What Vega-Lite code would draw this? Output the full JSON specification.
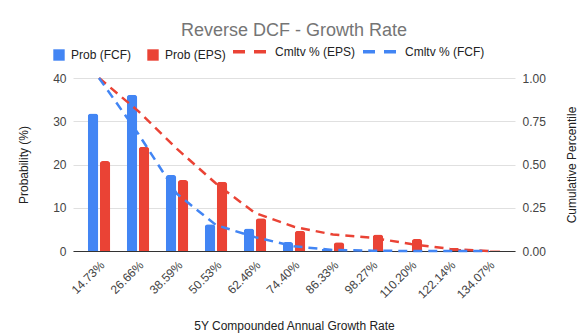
{
  "$schema": "https://vega.github.io/schema/vega-lite/v6.json",
  "width": 442,
  "height": 173,
  "autosize": {"type": "none"},
  "padding": {"left": 73, "top": 78, "right": 72, "bottom": 84},
  "background": "white",
  "config": {
    "view": {"stroke": null},
    "font": "Liberation Sans",
    "axis": {"labelFont": "Liberation Sans", "titleFont": "Liberation Sans", "labelFontSize": 12, "titleFontSize": 12, "titleFontWeight": "normal", "labelColor": "#444444", "titleColor": "#222222", "ticks": false},
    "legend": {"labelFont": "Liberation Sans", "labelFontSize": 12, "labelColor": "#222222"}
  },
  "title": {"text": "Reverse DCF - Growth Rate", "anchor": "middle", "fontSize": 18, "fontWeight": "normal", "color": "#757575", "font": "Liberation Sans", "offset": 4, "dy": 11},
  "layer": [
    {
      "data": {"values": [
        {"rate": "14.73%", "series": "Prob (FCF)", "value": 31.8},
        {"rate": "14.73%", "series": "Prob (EPS)", "value": 20.8},
        {"rate": "26.66%", "series": "Prob (FCF)", "value": 36.1},
        {"rate": "26.66%", "series": "Prob (EPS)", "value": 24.1},
        {"rate": "38.59%", "series": "Prob (FCF)", "value": 17.6},
        {"rate": "38.59%", "series": "Prob (EPS)", "value": 16.4},
        {"rate": "50.53%", "series": "Prob (FCF)", "value": 6.2},
        {"rate": "50.53%", "series": "Prob (EPS)", "value": 16.0},
        {"rate": "62.46%", "series": "Prob (FCF)", "value": 5.2},
        {"rate": "62.46%", "series": "Prob (EPS)", "value": 7.6},
        {"rate": "74.40%", "series": "Prob (FCF)", "value": 2.1},
        {"rate": "74.40%", "series": "Prob (EPS)", "value": 4.7},
        {"rate": "86.33%", "series": "Prob (FCF)", "value": 0.5},
        {"rate": "86.33%", "series": "Prob (EPS)", "value": 2.0},
        {"rate": "98.27%", "series": "Prob (FCF)", "value": 0.1},
        {"rate": "98.27%", "series": "Prob (EPS)", "value": 3.8},
        {"rate": "110.20%", "series": "Prob (FCF)", "value": 0},
        {"rate": "110.20%", "series": "Prob (EPS)", "value": 2.8},
        {"rate": "122.14%", "series": "Prob (FCF)", "value": 0},
        {"rate": "122.14%", "series": "Prob (EPS)", "value": 0.5},
        {"rate": "134.07%", "series": "Prob (FCF)", "value": 0},
        {"rate": "134.07%", "series": "Prob (EPS)", "value": 0.2}
      ]},
      "mark": {"type": "bar", "cornerRadiusTopLeft": 3, "cornerRadiusTopRight": 3},
      "encoding": {
        "x": {"field": "rate", "type": "nominal", "sort": null,
              "scale": {"paddingInner": 0, "paddingOuter": 0.167},
              "axis": {"title": "5Y Compounded Annual Growth Rate", "labelAngle": -45, "labelPadding": 8, "titlePadding": 20, "domainColor": "#333333", "grid": false}},
        "xOffset": {"field": "series", "type": "nominal", "sort": ["Prob (FCF)", "Prob (EPS)"], "scale": {"paddingInner": 0.125, "paddingOuter": 0.69}},
        "y": {"field": "value", "type": "quantitative", "scale": {"domain": [0, 40]},
              "axis": {"title": "Probability (%)", "values": [0, 10, 20, 30, 40], "domain": false, "gridColor": "#e0e0e0", "labelPadding": 7, "titlePadding": 22}},
        "color": {"field": "series", "type": "nominal",
                  "scale": {"domain": ["Prob (FCF)", "Prob (EPS)"], "range": ["#4285F4", "#EA4335"]},
                  "legend": {"title": null, "orient": "none", "legendX": -20, "legendY": -29, "direction": "horizontal", "columns": 2, "symbolType": "square", "symbolSize": 130, "symbolStrokeWidth": 0, "columnPadding": 16, "labelOffset": 6}}
      }
    },
    {
      "data": {"values": [
        {"rate": "14.73%", "series": "Cmltv % (EPS)", "cum": 1.0},
        {"rate": "26.66%", "series": "Cmltv % (EPS)", "cum": 0.81},
        {"rate": "38.59%", "series": "Cmltv % (EPS)", "cum": 0.59},
        {"rate": "50.53%", "series": "Cmltv % (EPS)", "cum": 0.39},
        {"rate": "62.46%", "series": "Cmltv % (EPS)", "cum": 0.22},
        {"rate": "74.40%", "series": "Cmltv % (EPS)", "cum": 0.14},
        {"rate": "86.33%", "series": "Cmltv % (EPS)", "cum": 0.095},
        {"rate": "98.27%", "series": "Cmltv % (EPS)", "cum": 0.077},
        {"rate": "110.20%", "series": "Cmltv % (EPS)", "cum": 0.04},
        {"rate": "122.14%", "series": "Cmltv % (EPS)", "cum": 0.012},
        {"rate": "134.07%", "series": "Cmltv % (EPS)", "cum": 0.0},
        {"rate": "14.73%", "series": "Cmltv % (FCF)", "cum": 1.0},
        {"rate": "26.66%", "series": "Cmltv % (FCF)", "cum": 0.68},
        {"rate": "38.59%", "series": "Cmltv % (FCF)", "cum": 0.33},
        {"rate": "50.53%", "series": "Cmltv % (FCF)", "cum": 0.15},
        {"rate": "62.46%", "series": "Cmltv % (FCF)", "cum": 0.08},
        {"rate": "74.40%", "series": "Cmltv % (FCF)", "cum": 0.027},
        {"rate": "86.33%", "series": "Cmltv % (FCF)", "cum": 0.006},
        {"rate": "98.27%", "series": "Cmltv % (FCF)", "cum": 0.002},
        {"rate": "110.20%", "series": "Cmltv % (FCF)", "cum": 0.0},
        {"rate": "122.14%", "series": "Cmltv % (FCF)", "cum": 0.0},
        {"rate": "134.07%", "series": "Cmltv % (FCF)", "cum": 0.0}
      ]},
      "mark": {"type": "line", "strokeDash": [9, 6], "strokeWidth": 2.5},
      "encoding": {
        "x": {"field": "rate", "type": "nominal", "sort": null},
        "y": {"field": "cum", "type": "quantitative", "scale": {"domain": [0, 1]},
              "axis": {"orient": "right", "title": "Cumulative Percentile", "titleAngle": 270, "values": [0, 0.25, 0.5, 0.75, 1], "format": ".2f", "domain": false, "grid": false, "labelPadding": 7, "titlePadding": 33}},
        "color": {"field": "series", "type": "nominal",
                  "scale": {"domain": ["Cmltv % (EPS)", "Cmltv % (FCF)"], "range": ["#EA4335", "#4285F4"]},
                  "legend": {"title": null, "orient": "none", "legendX": 158, "legendY": -45, "direction": "horizontal", "columns": 2, "symbolType": "stroke", "symbolSize": 1089, "symbolStrokeWidth": 3.5, "symbolDash": [12, 9], "columnPadding": 0, "labelOffset": 7}}
      }
    }
  ],
  "resolve": {"scale": {"y": "independent", "color": "independent"}}
}
